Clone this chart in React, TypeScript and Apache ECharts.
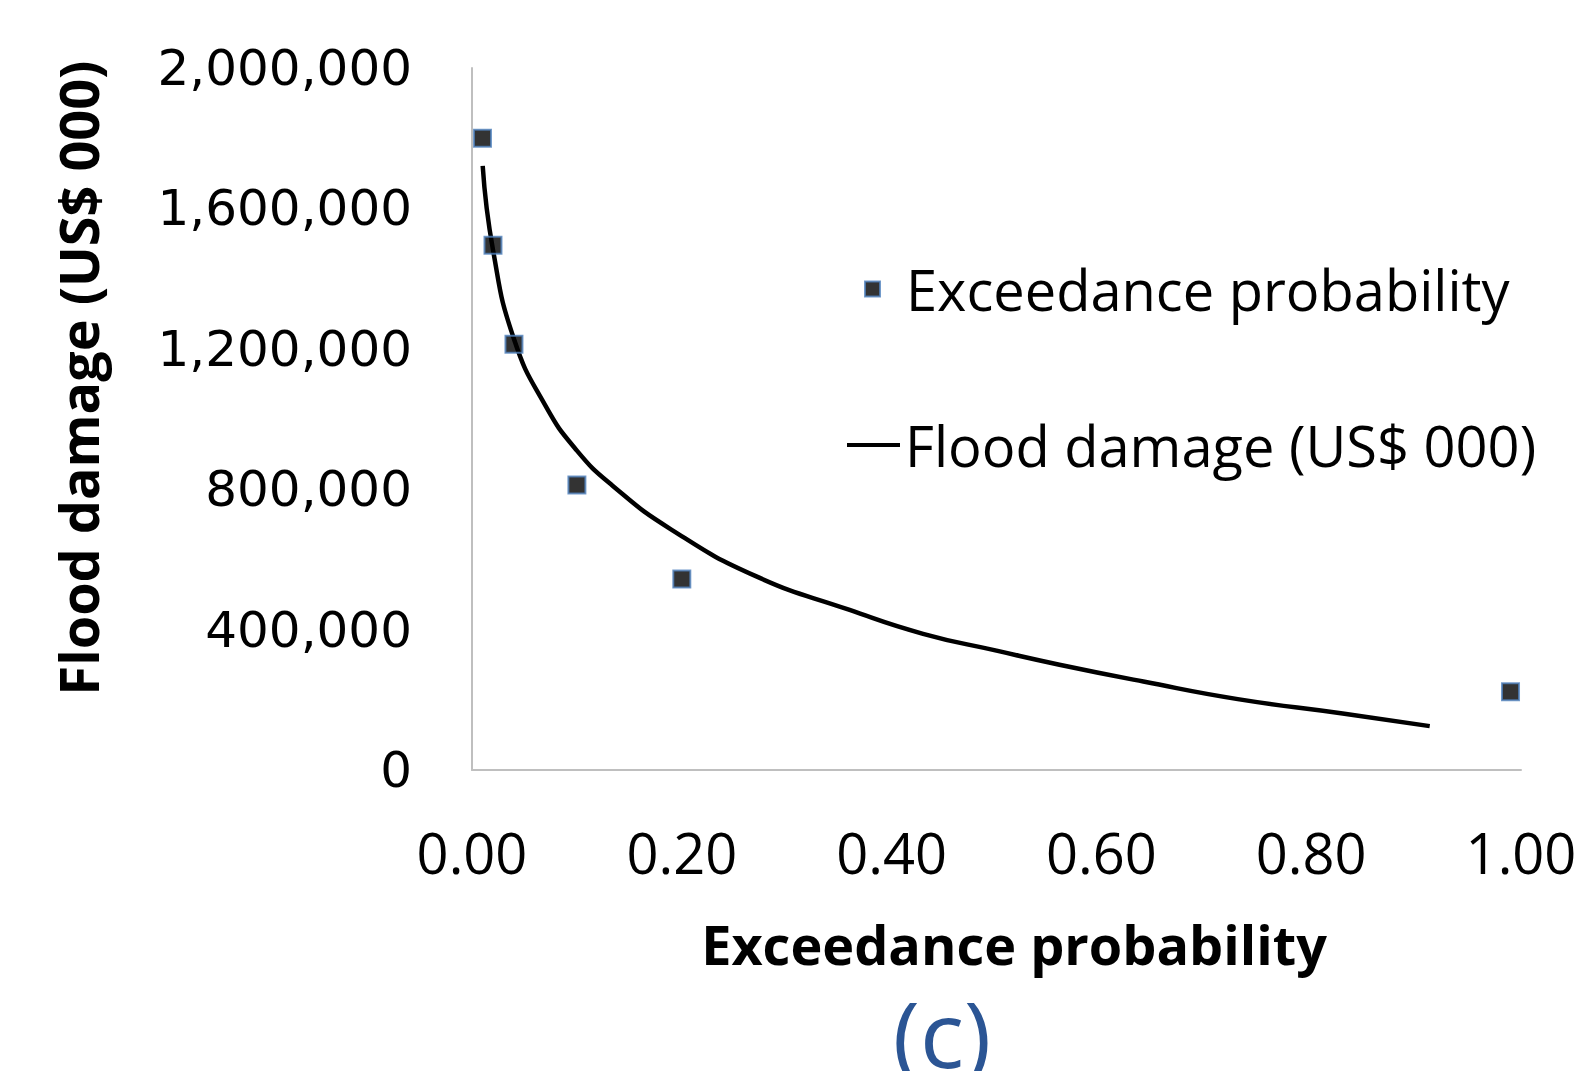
import React, { useEffect, useRef } from "react";
import * as echarts from "echarts";

// Observed points (exceedance probability, flood damage US$ 000)
const pointX = [0.01, 0.02, 0.04, 0.1, 0.2, 0.99];
const pointY = [1800000, 1495000, 1213000, 812000, 544000, 223000];

// Trend curve
const curveX = [0.0102, 0.02, 0.04, 0.07, 0.1, 0.134, 0.19, 0.27, 0.36, 0.43, 0.5, 0.56, 0.64, 0.73, 0.83, 0.913];
const curveY = [1721000, 1482000, 1228000, 1038000, 910000, 810000, 685000, 553000, 456000, 388000, 340000, 300000, 252000, 202000, 161000, 125000];

const xTicks = ["0.00", "0.20", "0.40", "0.60", "0.80", "1.00"];
const yTicks = ["0", "400,000", "800,000", "1,200,000", "1,600,000", "2,000,000"];

const scatterName = "Exceedance probability";
const lineName = "Flood damage (US$ 000)";
const xTitle = "Exceedance probability";
const yTitle = "Flood damage (US$ 000)";
const panelLabel = "(c)";

export default function App() {
  const ref = useRef<HTMLDivElement>(null);
  useEffect(() => {
    if (!ref.current) return;
    const chart = echarts.init(ref.current, null, { renderer: "svg" });
    const calibri = "'Open Sans', 'Noto Sans', sans-serif";
    chart.setOption({
      animation: false,
      backgroundColor: "#ffffff",
      grid: { left: 472, top: 68, right: 64, bottom: 301, containLabel: false },
      xAxis: {
        type: "value",
        min: 0,
        max: 1,
        interval: 0.2,
        axisLine: { show: true, lineStyle: { color: "#BFBFBF", width: 2 } },
        axisTick: { show: false },
        splitLine: { show: false },
        axisLabel: {
          margin: 54,
          fontSize: 56,
          color: "#000",
          fontFamily: calibri,
          formatter: (v: number) => xTicks[Math.round(v / 0.2)] ?? "",
        },
      },
      yAxis: {
        type: "value",
        min: 0,
        max: 2000000,
        interval: 400000,
        axisLine: { show: true, lineStyle: { color: "#BFBFBF", width: 2 } },
        axisTick: { show: false },
        splitLine: { show: false },
        axisLabel: {
          margin: 60,
          fontSize: 50,
          color: "#000",
          fontFamily: "'DejaVu Sans', sans-serif",
          formatter: (v: number) => yTicks[Math.round(v / 400000)] ?? "",
        },
      },
      legend: [
        {
          data: [{ name: scatterName, icon: "rect" }],
          left: 864,
          top: 261,
          padding: 0,
          itemWidth: 15,
          itemHeight: 15,
          textStyle: { fontSize: 56, color: "#000", fontFamily: calibri, padding: [0, 0, 0, 21] },
        },
        {
          data: [{ name: lineName, icon: "rect" }],
          left: 847,
          top: 417,
          padding: 0,
          itemWidth: 53,
          itemHeight: 4,
          itemStyle: { color: "#000", borderWidth: 0 },
          textStyle: { fontSize: 56, color: "#000", fontFamily: calibri },
        },
      ],
      graphic: [
        {
          type: "text",
          x: 1014,
          y: 944,
          style: {
            text: xTitle,
            fontSize: 54,
            lineHeight: 54,
            fontWeight: "bold",
            fontFamily: calibri,
            fill: "#000",
            align: "center",
            verticalAlign: "middle",
          },
        },
        {
          type: "text",
          x: 78,
          y: 378,
          rotation: Math.PI / 2,
          style: {
            text: yTitle,
            fontSize: 54,
            fontWeight: "bold",
            fontFamily: calibri,
            fill: "#000",
            align: "center",
            verticalAlign: "middle",
          },
        },
        {
          type: "text",
          x: 942,
          y: 1032,
          style: {
            text: panelLabel,
            fontSize: 92,
            lineHeight: 66,
            fontFamily: calibri,
            fill: "#2B5594",
            align: "center",
            verticalAlign: "middle",
          },
        },
      ],
      series: [
        {
          name: scatterName,
          type: "scatter",
          data: pointX.map((x, i) => [x, pointY[i]]),
          symbol: "rect",
          symbolSize: 17,
          itemStyle: { color: "#000", borderColor: "#4F81BD", borderWidth: 2 },
          z: 3,
        },
        {
          name: lineName,
          type: "line",
          data: curveX.map((x, i) => [x, curveY[i]]),
          smooth: true,
          symbol: "none",
          showSymbol: false,
          lineStyle: { color: "#000", width: 4.5 },
          itemStyle: { color: "#000" },
          z: 2,
        },
      ],
    });
    return () => chart.dispose();
  }, []);
  return (
    <div
      ref={ref}
      style={{ position: "fixed", left: 0, top: 0, width: 1585, height: 1071, background: "#fff" }}
    />
  );
}
